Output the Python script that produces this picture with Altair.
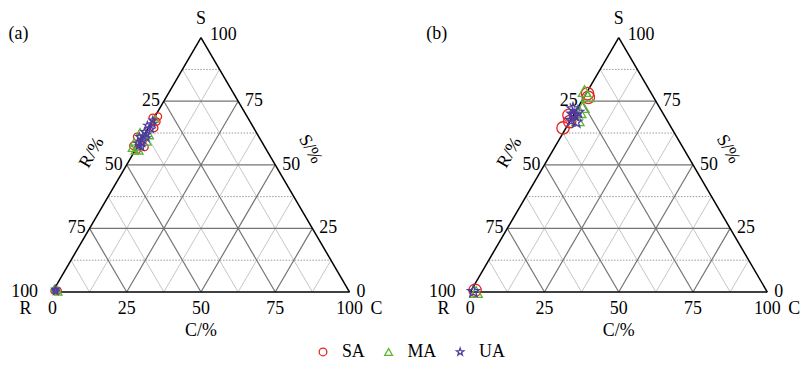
import altair as alt
import pandas as pd

# ---------------- data (ternary: C %, S %; R = 100 - C - S) ----------------
series_names = ["SA", "MA", "UA"]
series_colors = ["#e8231f", "#5cb531", "#4f3c9e"]
star_path = "M0,-1L0.235,-0.324L0.951,-0.309L0.380,0.124L0.588,0.809L0,0.4L-0.588,0.809L-0.380,0.124L-0.951,-0.309L-0.235,-0.324Z"
series_shapes = ["circle", "triangle-up", star_path]

# panel (a)
a_SA = [(1.0, 69.0), (-0.5, 68.5), (1.5, 67.0), (2.0, 64.5), (-1.5, 57.5), (0.5, 56.0), (2.5, 57.0), (-2.0, 61.0),
        (0.5, 0.5), (1.5, 0.5)]
a_MA = [(-1.5, 56.5), (0.0, 55.5), (1.5, 55.5), (-2.0, 59.0), (-2.0, 63.0), (2.5, 59.0), (2.0, 61.5), (0.5, 68.0),
        (0.0, 1.5), (1.0, 1.0), (2.0, 0.0)]
a_UA = [(0.0, 67.5), (0.8, 66.0), (-0.8, 65.5), (1.2, 64.0), (-0.5, 63.0), (0.8, 62.0), (-1.2, 61.0), (1.5, 60.5),
        (0.0, 60.0), (1.0, 58.5), (-0.5, 58.5), (0.5, 57.5), (1.5, 57.0), (0.5, 1.0), (1.0, 0.3)]
# panel (b)
b_SA = [(0.5, 78.0), (1.5, 76.5), (-1.5, 69.5), (0.0, 67.0), (-1.0, 64.5), (1.3, 0.7)]
b_MA = [(-1.0, 79.0), (1.0, 77.0), (1.6, 72.7), (1.5, 70.7), (2.5, 67.5), (2.0, 0.0)]
b_UA = [(-1.4, 72.0), (0.9, 70.7), (0.5, 69.4), (2.3, 66.8), (0.3, 67.5), (-0.5, 70.0), (1.0, 0.2)]

grid_major = [25, 50, 75]
grid_minor = [12.5, 37.5, 62.5, 87.5]
r_ticks = [25, 50, 75]
s_ticks = [25, 50, 75]
c_ticks = [0, 25, 50, 75, 100]
panels = ["a", "b"]

# ---------------- tables built from the arrays ----------------
pts = []
for panel, groups in (("a", (a_SA, a_MA, a_UA)), ("b", (b_SA, b_MA, b_UA))):
    for name, grp in zip(series_names, groups):
        for c, s in grp:
            pts.append({"panel": panel, "series": name, "C": c, "S": s})
pts = pd.DataFrame(pts)

grid = []
for panel in panels:
    for lvl_list, major in ((grid_minor, False), (grid_major, True)):
        for k in lvl_list:
            grid.append({"panel": panel, "major": major, "kind": "h", "C1": 0, "S1": k, "C2": 100 - k, "S2": k})
            grid.append({"panel": panel, "major": major, "kind": "d", "C1": k, "S1": 0, "C2": k, "S2": 100 - k})
            grid.append({"panel": panel, "major": major, "kind": "d", "C1": 100 - k, "S1": 0, "C2": 0, "S2": 100 - k})
grid = pd.DataFrame(grid)

edges = []
for panel in panels:
    edges += [{"panel": panel, "C1": 0, "S1": 0, "C2": 100, "S2": 0},
              {"panel": panel, "C1": 100, "S1": 0, "C2": 0, "S2": 100},
              {"panel": panel, "C1": 0, "S1": 100, "C2": 0, "S2": 0}]
edges = pd.DataFrame(edges)

left_lab = pd.DataFrame([{"panel": p, "C": 0, "S": 100 - r, "t": str(r)} for p in panels for r in r_ticks])
left100 = pd.DataFrame([{"panel": p, "C": 0, "S": 0, "t": "100"} for p in panels])
right_lab = pd.DataFrame([{"panel": p, "C": 100 - s, "S": s, "t": str(s)} for p in panels for s in s_ticks]
                         + [{"panel": p, "C": 100, "S": 0, "t": "0"} for p in panels])
top100 = pd.DataFrame([{"panel": p, "C": 0, "S": 100, "t": "100"} for p in panels])
bottom_lab = pd.DataFrame([{"panel": p, "C": c, "S": 0, "t": str(c)} for p in panels for c in c_ticks])
vS = pd.DataFrame([{"panel": p, "C": 0, "S": 100, "t": "S"} for p in panels])
vR = pd.DataFrame([{"panel": p, "C": 0, "S": 0, "t": "R"} for p in panels])
vC = pd.DataFrame([{"panel": p, "C": 100, "S": 0, "t": "C"} for p in panels])
tC = pd.DataFrame([{"panel": p, "C": 50, "S": 0, "t": "C/%"} for p in panels])
tR = pd.DataFrame([{"panel": p, "C": 0, "S": 50, "t": "R/%"} for p in panels])
tS = pd.DataFrame([{"panel": p, "C": 50, "S": 50, "t": "S/%"} for p in panels])
plab = pd.DataFrame([{"panel": p, "C": 0, "S": 100, "t": "(" + p + ")"} for p in panels])

# ---------------- scales ----------------
W, H = 797, 352
PX = 2.99
xs = alt.Scale(domain=[-14.95, -14.95 + W / PX], nice=False, zero=False)
ys = alt.Scale(domain=[111.21 - H / 2.56, 111.21], nice=False, zero=False)
OFF = "(datum.panel == 'b' ? 140.6 : 0)"
FONT = "Liberation Serif"


def seg(df):
    return alt.Chart(df).transform_calculate(
        x1=f"datum.C1 + datum.S1 / 2 + {OFF}", y1="datum.S1",
        x2=f"datum.C2 + datum.S2 / 2 + {OFF}", y2="datum.S2",
    ).encode(
        x=alt.X("x1:Q", scale=xs, axis=None), y=alt.Y("y1:Q", scale=ys, axis=None),
        x2="x2:Q", y2="y2:Q",
    )


minor_d = seg(grid[(~grid.major) & (grid.kind == "d")]).mark_rule(color="#c6c6c6", strokeWidth=1)
minor_h = seg(grid[(~grid.major) & (grid.kind == "h")]).mark_rule(color="#999999", strokeWidth=1, strokeDash=[1.5, 1.5])
major = seg(grid[grid.major]).mark_rule(color="#747474", strokeWidth=1.2)
border = seg(edges).mark_rule(color="black", strokeWidth=1.5)


def txt(df, **kw):
    base = dict(font=FONT, fontSize=18, color="black", baseline="middle")
    base.update(kw)
    return alt.Chart(df).transform_calculate(
        x=f"datum.C + datum.S / 2 + {OFF}", y="datum.S"
    ).mark_text(**base).encode(
        x=alt.X("x:Q", scale=xs, axis=None), y=alt.Y("y:Q", scale=ys, axis=None), text="t:N"
    )


texts = [
    txt(left_lab, align="right", dx=-4),
    txt(left100, align="right", dx=-14.5),
    txt(right_lab, align="left", dx=7),
    txt(top100, align="left", dx=9, dy=-3),
    txt(bottom_lab, align="center", dy=17),
    txt(vS, align="center", dy=-19),
    txt(vR, align="center", dx=-27, dy=17),
    txt(vC, align="center", dx=27, dy=17),
    txt(tC, align="center", dy=39),
    txt(tR, align="center", dx=-6.9, dy=-36.4, angle=300),
    txt(tS, align="center", dx=3.9, dy=-38.3, angle=60),
    txt(plab, align="left", dx=-193.7, dy=-4),
]

color_enc = alt.Color("series:N", scale=alt.Scale(domain=series_names, range=series_colors),
                      legend=alt.Legend(title=None, orient="none", direction="horizontal",
                                        legendX=308, legendY=336, padding=0,
                                        labelFont=FONT, labelFontSize=18, labelColor="black",
                                        labelOffset=10, columnPadding=14, symbolSize=60,
                                        symbolStrokeWidth=1.3))
shape_enc = alt.Shape("series:N", scale=alt.Scale(domain=series_names, range=series_shapes))


def points(panel, size):
    return alt.Chart(pts).transform_filter(f"datum.panel == '{panel}'").transform_calculate(
        x=f"datum.C + datum.S / 2 + {OFF}", y="datum.S"
    ).mark_point(filled=False, size=size, strokeWidth=1.3, opacity=1).encode(
        x=alt.X("x:Q", scale=xs, axis=None), y=alt.Y("y:Q", scale=ys, axis=None),
        color=color_enc, shape=shape_enc,
    )


chart = alt.layer(
    minor_d, minor_h, major, border, *texts, points("a", 55), points("b", 155)
).properties(
    width=W, height=H, autosize=alt.AutoSizeParams(type="none"), padding=0
).configure_view(stroke=None)

chart.save("out.html", embed_options={"renderer": "svg", "actions": False})
